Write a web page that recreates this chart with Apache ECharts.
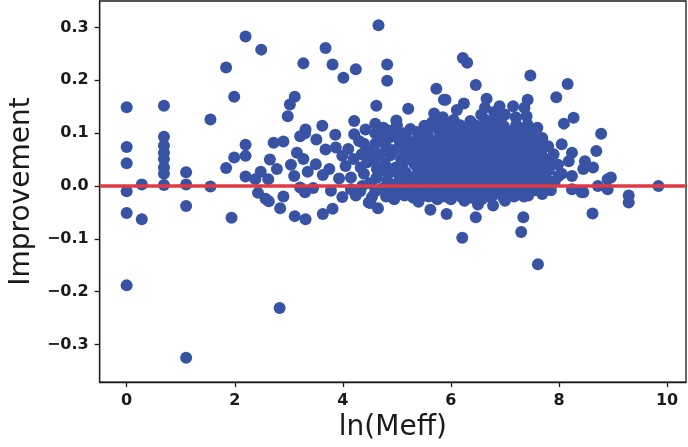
<!DOCTYPE html>
<html>
<head>
<meta charset="utf-8">
<script src="https://cdn.jsdelivr.net/npm/echarts@6/dist/echarts.min.js"></script>
<style>
  html, body { margin: 0; padding: 0; background: #fff; }
  #chart { width: 688px; height: 447px; }
</style>
</head>
<body>
<div id="chart"></div>
<script>
// x = ln(Meff), y = improvement

// small-sample columns on the left
let leftPoints = [
  [0, 0.149], [0, 0.074], [0, 0.043], [0, -0.01], [0, -0.051], [0, -0.188],
  [0.28, 0.003], [0.28, -0.063],
  [0.69, 0.152], [0.69, 0.093], [0.69, 0.076], [0.69, 0.063], [0.69, 0.051], [0.69, 0.035], [0.69, 0.023], [0.69, 0.002],
  [1.1, 0.026], [1.1, 0.003], [1.1, -0.038], [1.1, -0.325],
  [1.55, 0.126], [1.55, -0.001],
  [1.84, 0.224], [1.99, 0.169], [1.84, 0.034], [1.99, 0.054], [1.94, -0.06],
  [2.2, 0.283], [2.2, 0.078], [2.2, 0.057], [2.2, 0.018], [2.38, 0.013]
]

// x 2.4 .. 4.8
let midPoints = [
  [2.49, 0.258], [2.98, 0.132], [3.02, 0.154], [3.11, 0.169], [3.27, 0.232], [3.68, 0.261], [3.81, 0.23],
  [4.01, 0.205], [4.24, 0.221], [4.66, 0.304], [4.82, 0.23], [4.82, 0.199],
  [3.31, 0.107], [3.3, 0.1], [3.62, 0.114], [4.21, 0.123], [3.21, 0.094], [3.51, 0.088], [3.86, 0.097],
  [4.21, 0.098], [4.42, 0.107], [2.72, 0.082], [2.9, 0.084],
  [3.68, 0.069], [3.87, 0.073], [3.99, 0.057], [4.39, 0.08],
  [2.65, 0.05], [2.78, 0.032], [3.04, 0.04], [3.27, 0.051], [3.5, 0.041], [3.75, 0.032], [4.05, 0.038], [4.2, 0.051], [3.15, 0.063],
  [2.48, 0.027], [2.62, 0.013], [3.1, 0.019], [3.35, 0.027], [3.63, 0.021], [3.93, 0.014], [4.39, 0.023],
  [3.21, -0.003], [3.45, -0.004], [3.78, -0.009], [4.15, -0.006],
  [2.43, -0.013], [2.57, -0.024], [2.63, -0.029], [2.9, -0.02], [2.84, -0.042], [3.3, -0.012],
  [3.99, -0.021], [4.24, -0.018], [4.48, -0.031],
  [3.11, -0.057], [3.31, -0.063], [3.63, -0.053], [3.81, -0.043], [4.51, -0.032], [4.65, -0.042],
  [2.83, -0.231]
]

// the dense band, x 4.0 .. 8.0
let densePoints = [
  [4.1, 0.07], [4.3, 0.085], [4.15, 0.016],
  [4.5, 0.065], [4.45, 0.045], [4.5, 0.005], [4.54, -0.021], [4.6, 0.1],
  [4.75, 0.11], [4.7, 0.09], [4.8, 0.075], [4.68, 0.06], [4.78, 0.042], [4.7, 0.028], [4.82, 0.01], [4.72, -0.005], [4.8, -0.02],
  [5.0, 0.115], [4.92, 0.1], [5.05, 0.085], [4.95, 0.068], [5.08, 0.05], [4.98, 0.035], [5.05, 0.018], [4.93, 0.003], [5.02, -0.012], [4.95, -0.025],
  [5.25, 0.108], [5.18, 0.09], [5.3, 0.075], [5.2, 0.058], [5.32, 0.042], [5.17, 0.025], [5.28, 0.01], [5.2, -0.008], [5.3, -0.022],
  [5.45, 0.095], [5.52, 0.08], [5.42, 0.062], [5.5, 0.046], [5.44, 0.03], [5.53, 0.014], [5.46, -0.003], [5.5, -0.018], [5.4, -0.03],
  [5.65, 0.12], [5.62, 0.088], [5.72, 0.072], [5.64, 0.055], [5.74, 0.038], [5.66, 0.02], [5.72, 0.005], [5.63, -0.012], [5.75, -0.025],
  [5.85, 0.13], [5.92, 0.112], [5.82, 0.095], [5.9, 0.08], [5.83, 0.063], [5.94, 0.047], [5.85, 0.03], [5.92, 0.013], [5.84, -0.003], [5.9, -0.02],
  [6.05, 0.125], [6.08, 0.09], [6.0, 0.074], [6.1, 0.058], [6.02, 0.042], [6.12, 0.025], [6.04, 0.008], [6.1, -0.008], [6.0, -0.025],
  [6.25, 0.105], [6.32, 0.088], [6.22, 0.07], [6.3, 0.055], [6.25, 0.037], [6.33, 0.02], [6.22, 0.004], [6.3, -0.012], [6.25, -0.028],
  [6.45, 0.115], [6.45, 0.08], [6.52, 0.065], [6.42, 0.048], [6.5, 0.032], [6.44, 0.015], [6.53, 0.0], [6.45, -0.017], [6.5, -0.035],
  [6.7, 0.11], [6.62, 0.092], [6.72, 0.076], [6.65, 0.06], [6.74, 0.043], [6.62, 0.027], [6.7, 0.01], [6.66, -0.006], [6.74, -0.022],
  [6.85, 0.105], [6.93, 0.088], [6.82, 0.07], [6.9, 0.053], [6.84, 0.037], [6.95, 0.02], [6.83, 0.004], [6.9, -0.012],
  [7.05, 0.1], [7.12, 0.082], [7.02, 0.066], [7.1, 0.05], [7.04, 0.033], [7.13, 0.017], [7.05, 0.0], [7.1, -0.015], [7.0, -0.028],
  [7.25, 0.093], [7.32, 0.075], [7.22, 0.058], [7.3, 0.04], [7.24, 0.024], [7.33, 0.008], [7.26, -0.008], [7.35, -0.02],
  [7.5, 0.1], [7.44, 0.083], [7.52, 0.066], [7.45, 0.048], [7.53, 0.03], [7.47, 0.014], [7.5, -0.003], [7.43, -0.018],
  [7.65, 0.07], [7.72, 0.05], [7.62, 0.033], [7.75, 0.018], [7.66, 0.003], [7.69, 0.057],
  [7.9, 0.06], [7.98, 0.04], [7.99, 0.019], [7.92, 0.008], [7.85, -0.008]
]

// more points inside the band, between the ones above
let fillPoints = [
  [4.35, 0.06], [4.33, 0.035], [4.36, 0.0], [4.32, -0.01],
  [4.6, 0.08], [4.58, 0.05], [4.62, 0.015], [4.6, -0.01], [4.63, 0.032],
  [4.87, 0.092], [4.88, 0.058], [4.86, 0.025], [4.88, -0.012], [4.85, 0.105],
  [5.12, 0.1], [5.13, 0.066], [5.11, 0.032], [5.12, 0.0], [5.14, -0.018], [5.1, 0.082], [5.14, 0.048], [5.1, 0.015],
  [5.37, 0.102], [5.36, 0.085], [5.38, 0.068], [5.36, 0.05], [5.38, 0.035], [5.37, 0.02], [5.36, 0.003], [5.38, -0.014],
  [5.58, 0.108], [5.57, 0.097], [5.59, 0.078], [5.58, 0.063], [5.57, 0.045], [5.59, 0.028], [5.58, 0.012], [5.57, -0.005], [5.59, -0.02],
  [5.78, 0.087], [5.79, 0.07], [5.77, 0.055], [5.79, 0.04], [5.78, 0.022], [5.77, 0.006], [5.79, -0.01], [5.77, 0.118],
  [5.97, 0.098], [5.98, 0.085], [5.96, 0.068], [5.98, 0.052], [5.97, 0.035], [5.96, 0.018], [5.98, 0.0], [5.97, -0.015], [5.96, 0.116],
  [6.17, 0.115], [6.16, 0.098], [6.18, 0.08], [6.17, 0.064], [6.16, 0.047], [6.18, 0.03], [6.17, 0.013], [6.16, -0.003], [6.18, -0.02],
  [6.38, 0.108], [6.39, 0.096], [6.37, 0.078], [6.38, 0.06], [6.39, 0.043], [6.37, 0.026], [6.38, 0.009], [6.39, -0.007], [6.37, -0.022],
  [6.58, 0.11], [6.59, 0.085], [6.57, 0.07], [6.58, 0.053], [6.59, 0.037], [6.57, 0.02], [6.58, 0.005], [6.59, -0.01], [6.57, -0.025], [6.56, 0.135],
  [6.78, 0.12], [6.79, 0.097], [6.77, 0.08], [6.78, 0.063], [6.79, 0.047], [6.77, 0.03], [6.78, 0.015], [6.79, -0.002], [6.77, -0.018], [6.8, 0.14],
  [6.98, 0.113], [6.99, 0.092], [6.97, 0.075], [6.98, 0.058], [6.99, 0.042], [6.97, 0.025], [6.98, 0.008], [6.99, -0.007], [6.97, -0.022], [7.0, 0.135],
  [7.18, 0.108], [7.19, 0.09], [7.17, 0.072], [7.18, 0.056], [7.19, 0.04], [7.17, 0.024], [7.18, 0.008], [7.19, -0.006], [7.17, -0.02], [7.2, 0.13],
  [7.38, 0.105], [7.39, 0.085], [7.37, 0.066], [7.38, 0.05], [7.39, 0.032], [7.37, 0.017], [7.38, 0.0], [7.39, -0.013], [7.4, 0.132],
  [7.58, 0.085], [7.59, 0.058], [7.57, 0.04], [7.58, 0.022], [7.59, 0.008], [7.57, -0.008], [7.6, 0.11],
  [7.8, 0.075], [7.81, 0.03], [7.79, 0.01], [7.8, -0.005], [7.82, 0.045]
]

// x 5 .. 10, points outside the band
let rightPoints = [
  [5.73, 0.184], [5.87, 0.163], [4.62, 0.152], [5.21, 0.146], [5.69, 0.137], [4.99, 0.124], [5.51, 0.114], [4.6, 0.118],
  [6.22, 0.242], [6.3, 0.233], [7.47, 0.209], [8.16, 0.193], [6.46, 0.191], [7.95, 0.168], [5.9, 0.163], [7.42, 0.163],
  [6.24, 0.156], [6.66, 0.165], [6.9, 0.151], [7.15, 0.151], [7.36, 0.148], [6.63, 0.148], [6.11, 0.144],
  [8.27, 0.129], [8.09, 0.118], [6.63, 0.126], [6.92, 0.126], [6.36, 0.123], [7.21, 0.116], [7.42, 0.116],
  [8.78, 0.099], [8.69, 0.066], [8.05, 0.079], [8.24, 0.063], [8.18, 0.047], [8.48, 0.047], [8.63, 0.035],
  [8.45, 0.032], [8.05, 0.023], [8.24, 0.019], [8.9, 0.013], [8.96, 0.016], [8.24, -0.006], [8.45, -0.012],
  [8.9, -0.006], [8.72, 0.0], [8.42, -0.012], [7.69, -0.015], [7.69, 0.091], [7.69, 0.032],
  [9.84, 0.0], [9.29, -0.018], [9.29, -0.031], [8.62, -0.052], [7.61, -0.148], [7.3, -0.087], [7.34, -0.059],
  [6.78, -0.037], [6.46, -0.059], [6.21, -0.098], [5.92, -0.053], [5.62, -0.045], [5.78, 0.104], [6.57, 0.098], [5.99, 0.107]
]

let xTicks = [0, 2, 4, 6, 8, 10]
let yTicks = [-0.3, -0.2, -0.1, 0, 0.1, 0.2, 0.3]
let zeroLine = 0

let allPoints = leftPoints.concat(midPoints, densePoints, fillPoints, rightPoints)

let chart = echarts.init(document.getElementById('chart'))

let tickFont = {
  fontFamily: 'DejaVu Sans',
  fontSize: 16,
  fontWeight: 'bold',
  color: '#1a1a1a'
}

let option = {
  animation: false,
  grid: {
    left: 89, right: 2, top: 1, bottom: 62,
    show: true,
    borderColor: '#1a1a1a',
    borderWidth: 1.3
  },
  xAxis: {
    type: 'value',
    min: -0.5,
    max: 10.35,
    name: 'ln(Meff)',
    nameLocation: 'middle',
    nameGap: 31,
    nameTextStyle: { fontFamily: 'DejaVu Sans', fontSize: 28, color: '#1a1a1a' },
    splitLine: { show: false },
    axisLine: { onZero: false, lineStyle: { color: '#1a1a1a', width: 1.3 } },
    axisTick: { length: 5, lineStyle: { color: '#1a1a1a', width: 1.3 }, customValues: xTicks },
    axisLabel: Object.assign({ margin: 11, customValues: xTicks }, tickFont)
  },
  yAxis: {
    type: 'value',
    min: -0.371,
    max: 0.35,
    name: 'Improvement',
    nameLocation: 'middle',
    nameGap: 60,
    nameTextStyle: { fontFamily: 'DejaVu Sans', fontSize: 28, color: '#1a1a1a' },
    splitLine: { show: false },
    axisLine: { onZero: false, lineStyle: { color: '#1a1a1a', width: 1.3 } },
    axisTick: { length: 5, lineStyle: { color: '#1a1a1a', width: 1.3 }, customValues: yTicks },
    axisLabel: Object.assign({
      margin: 11,
      customValues: yTicks,
      formatter: function (v) {
        let s = Math.abs(v).toFixed(1)
        return (v < -1e-9 ? '\u2212' : '') + s
      }
    }, tickFont)
  },
  series: [
    {
      type: 'scatter',
      data: allPoints,
      symbolSize: 12,
      itemStyle: { color: '#3953a4', opacity: 1 }
    },
    {
      type: 'line',
      data: [],
      markLine: {
        silent: true,
        symbol: 'none',
        label: { show: false },
        lineStyle: { color: '#e03a45', width: 3.5, type: 'solid' },
        data: [{ yAxis: zeroLine }]
      }
    }
  ]
}

chart.setOption(option)
</script>
</body>
</html>
